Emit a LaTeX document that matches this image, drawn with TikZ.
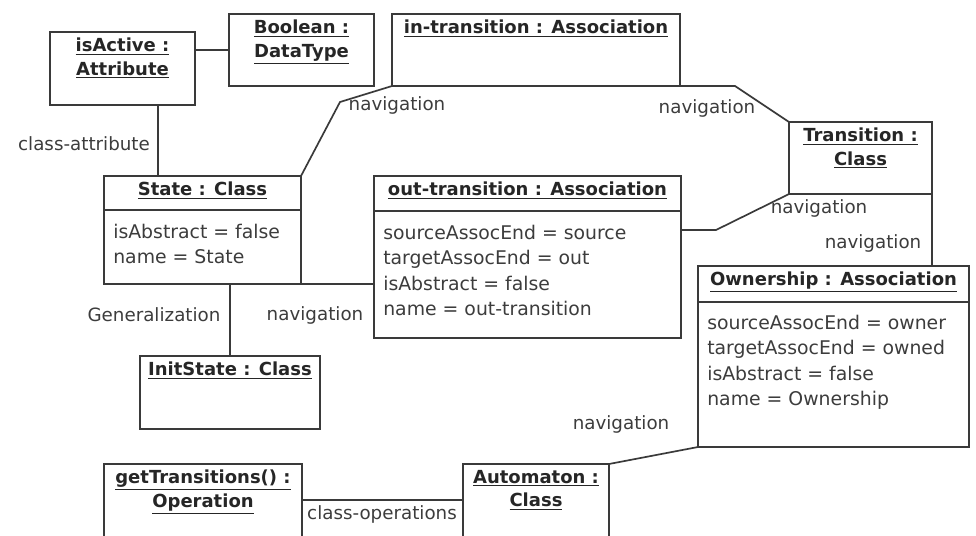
\documentclass[tikz,border=0pt]{standalone}
\usepackage{fontspec}
\setmainfont{DejaVu Sans}
\usetikzlibrary{positioning,calc}
\definecolor{linegray}{HTML}{3A3A3A}
\definecolor{textgray}{HTML}{3C3C3C}
\newcommand{\px}{0.025cm}
\tikzset{
  obj/.style={draw=linegray, line width=1.2pt, anchor=north west, inner sep=0pt, outer sep=0pt},
  ttl/.style={font=\fontsize{12.8}{17}\selectfont\bfseries, text=black!85, align=center, inner sep=0pt},
  attrs/.style={font=\fontsize{13.4}{18}\selectfont, text=textgray, align=left, anchor=north west, inner sep=0pt},
  lbl/.style={font=\fontsize{13}{18}\selectfont, text=textgray, inner sep=0pt},
  link/.style={draw=linegray, line width=1.2pt}
}
\begin{document}
\begin{tikzpicture}[x=\px, y=-\px]
        \clip (0,0) rectangle (976,535);
        % объекты
        \node[obj, minimum width=145*\px, minimum height=73*\px] (isactive) at (50,32) {};
        \node[obj, minimum width=145*\px, minimum height=72*\px] (boolean) at (229,14) {};
        \node[obj, minimum width=288*\px, minimum height=72*\px] (intr) at (392,14) {};
        \node[obj, minimum width=143*\px, minimum height=72*\px] (transition) at (789,122) {};
        \node[obj, minimum width=197*\px, minimum height=108*\px] (state) at (104,176) {};
        \node[obj, minimum width=307*\px, minimum height=162*\px] (outtr) at (374,176) {};
        \node[obj, minimum width=271*\px, minimum height=181*\px] (ownership) at (698,266) {};
        \node[obj, minimum width=180*\px, minimum height=73*\px] (initstate) at (140,356) {};
        \node[obj, minimum width=198*\px, minimum height=100*\px] (gettr) at (104,464) {};
        \node[obj, minimum width=146*\px, minimum height=100*\px] (automaton) at (463,464) {};

        % заголовки
        \node[ttl, below=4pt of isactive.north] (isactivettl) {\underline{isActive :}\\\underline{Attribute}};
        \node[ttl, below=4pt of boolean.north] (booleanttl) {\underline{Boolean :}\\\underline{DataType}};
        \node[ttl, below=4pt of intr.north] (intrttl) {\underline{in-transition : Association}};
        \node[ttl, below=4pt of transition.north] (transitionttl) {\underline{Transition :}\\\underline{Class}};
        \node[ttl, below=4pt of state.north] (statettl) {\underline{State : Class}};
        \node[ttl, below=4pt of outtr.north] (outtrttl) {\underline{out-transition : Association}};
        \node[ttl, below=4pt of ownership.north] (ownershipttl) {\underline{Ownership : Association}};
        \node[ttl, below=4pt of initstate.north] (initstatettl) {\underline{InitState : Class}};
        \node[ttl, below=4pt of gettr.north] (gettrttl) {\underline{getTransitions() :}\\\underline{Operation}};
        \node[ttl, below=4pt of automaton.north] (automatonttl) {\underline{Automaton :}\\\underline{Class}};

        % разделители
        \foreach \b/\h in {state/34, outtr/35, ownership/36}
            \draw[link] ($(\b.north west)+(0,\h)$) -- ($(\b.north east)+(0,\h)$);

        % атрибуты
        \node[attrs] (stateattr) at ($(state.north west)+(9,48)$) {isAbstract = false\\name = State};
        \node[attrs] (outtrattr) at ($(outtr.north west)+(9,49)$) {sourceAssocEnd = source\\targetAssocEnd = out\\isAbstract = false\\name = out-transition};
        \node[attrs] (ownershipattr) at ($(ownership.north west)+(9,49)$) {sourceAssocEnd = owner\\targetAssocEnd = owned\\isAbstract = false\\name = Ownership};

        % связи
        \draw[link] (boolean.west) -- (isactive.east |- boolean.west);
        \coordinate (ca) at (158,0);
        \draw[link] (isactive.south -| ca) -- (state.north -| ca);
        \node[lbl] (lclsattr) at (84,144) {class-attribute};

        \draw[link] (state.north east) -- (340,102) -- (intr.south west);
        \node[lbl] (lnav1) at (397,105) {navigation};

        \draw[link] (intr.south east) -- (735,86) -- (transition.north west);
        \node[lbl] (lnav2) at (707,108) {navigation};

        \draw[link] (transition.south west) -- (716,230) -- (outtr.east |- 0,230);
        \node[lbl] (lnav3) at (819,208) {navigation};

        \draw[link] (transition.south east) -- (ownership.north -| transition.south east);
        \node[lbl] (lnav4) at (873,243) {navigation};

        \draw[link] (state.south east) -- (outtr.west |- state.south east);
        \node[lbl] (lnav5) at (315,315) {navigation};

        \draw[link] (initstate.north) -- (state.south -| initstate.north);
        \node[lbl] (lgen) at (154,315) {Generalization};

        \draw[link] (ownership.south west) -- (automaton.north east);
        \node[lbl] (lnav6) at (621,424) {navigation};

        \coordinate (co) at (0,500);
        \draw[link] (gettr.east |- co) -- (automaton.west |- co);
        \node[lbl] (lclsop) at (382,514) {class-operations};
    \end{tikzpicture}
\end{document}
